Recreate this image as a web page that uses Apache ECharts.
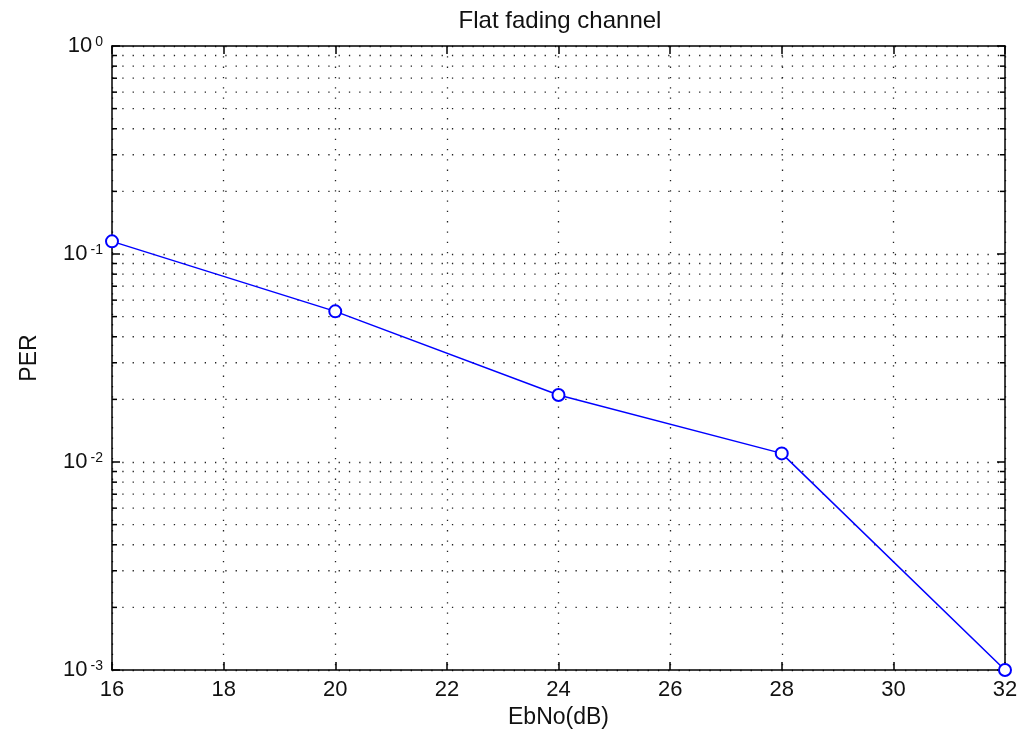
<!DOCTYPE html>
<html>
<head>
<meta charset="utf-8">
<script src="https://cdn.jsdelivr.net/npm/echarts@6/dist/echarts.min.js"></script>
<style>
html,body{margin:0;padding:0;background:#fff;}
#chart{width:1028px;height:734px;}
</style>
</head>
<body>
<div id="chart"></div>
<script>
const ebno = [16, 20, 24, 28, 32];
const per = [0.115, 0.053, 0.021, 0.011, 0.001];
const xTicks = [16, 18, 20, 22, 24, 26, 28, 30, 32];
const yMajor = [0.001, 0.01, 0.1, 1];
const yMinor = [0.002, 0.003, 0.004, 0.005, 0.006, 0.007, 0.008, 0.009,
                0.02, 0.03, 0.04, 0.05, 0.06, 0.07, 0.08, 0.09,
                0.2, 0.3, 0.4, 0.5, 0.6, 0.7, 0.8, 0.9];
const yExponents = ['-3', '-2', '-1', '0'];

const FONT = '"Liberation Sans", Arial, sans-serif';
const dot = [1.3, 9];
const xMin = xTicks[0], xMax = xTicks[xTicks.length - 1];

const chart = echarts.init(document.getElementById('chart'));
chart.setOption({
  animation: false,
  backgroundColor: '#fff',
  title: {
    text: 'Flat fading channel',
    left: 555, top: 4, textAlign: 'center',
    textStyle: {fontFamily: FONT, fontSize: 24, fontWeight: 'normal', color: '#111'}
  },
  grid: {left: 112, right: 23, top: 46, bottom: 62},
  xAxis: [{
    type: 'value', min: xMin, max: xMax, interval: 2,
    name: 'EbNo(dB)', nameLocation: 'middle', nameGap: 36,
    nameTextStyle: {fontFamily: FONT, fontSize: 23, color: '#111'},
    axisLine: {lineStyle: {color: '#000', width: 1.5}},
    axisTick: {inside: true, length: 8, lineStyle: {color: '#000', width: 1.5}},
    axisLabel: {fontFamily: FONT, fontSize: 22, color: '#111', margin: 9},
    splitLine: {show: true, lineStyle: {color: '#222', width: 1.3, type: dot}}
  }, {
    type: 'value', min: xMin, max: xMax, interval: 2, position: 'top',
    axisLine: {lineStyle: {color: '#000', width: 1.5}},
    axisTick: {inside: true, length: 8, lineStyle: {color: '#000', width: 1.5}},
    axisLabel: {show: false}, splitLine: {show: false}
  }],
  yAxis: [{
    type: 'log', logBase: 10, min: yMajor[0], max: yMajor[yMajor.length - 1],
    name: 'PER', nameLocation: 'middle', nameGap: 71, nameRotate: 90,
    nameTextStyle: {fontFamily: FONT, fontSize: 23, color: '#111'},
    axisLine: {lineStyle: {color: '#000', width: 1.5}},
    axisTick: {inside: true, length: 8, lineStyle: {color: '#000', width: 1.5}},
    axisLabel: {
      margin: 9,
      formatter: function (v) {
        let idx = 0, best = Infinity;
        yMajor.forEach((m, i) => {
          const d = Math.abs(Math.log10(m) - Math.log10(v));
          if (d < best) { best = d; idx = i; }
        });
        return '{b|10}{s|' + yExponents[idx] + '}';
      },
      rich: {
        b: {fontFamily: FONT, fontSize: 22, lineHeight: 22, color: '#111', verticalAlign: 'middle', padding: [4, 0, 4, 0]},
        s: {fontFamily: FONT, fontSize: 14, lineHeight: 14, color: '#111', verticalAlign: 'top', padding: [0, 0, 0, 3]}
      }
    },
    splitLine: {show: true, lineStyle: {color: '#222', width: 1.3, type: dot}}
  }, {
    type: 'log', logBase: 10, min: yMajor[0], max: yMajor[yMajor.length - 1], position: 'right',
    axisLine: {lineStyle: {color: '#000', width: 1.5}},
    axisTick: {inside: true, length: 8, lineStyle: {color: '#000', width: 1.5}},
    axisLabel: {show: false}, splitLine: {show: false}
  }],
  series: [{
    type: 'custom',
    silent: true,
    z: 1,
    data: yMinor.map(v => [xMin, v]),
    renderItem: function (params, api) {
      const v = api.value(1);
      const p1 = api.coord([xMin, v]);
      const p2 = api.coord([xMax, v]);
      return {
        type: 'group',
        children: [{
          type: 'line',
          shape: {x1: p1[0], y1: p1[1], x2: p2[0], y2: p2[1]},
          style: {stroke: '#222', lineWidth: 1.3, lineDash: dot}
        }, {
          type: 'line',
          shape: {x1: p1[0], y1: p1[1], x2: p1[0] + 5, y2: p1[1]},
          style: {stroke: '#000', lineWidth: 1.5}
        }, {
          type: 'line',
          shape: {x1: p2[0] - 5, y1: p2[1], x2: p2[0], y2: p2[1]},
          style: {stroke: '#000', lineWidth: 1.5}
        }]
      };
    }
  }, {
    type: 'line',
    z: 5,
    data: ebno.map((x, i) => [x, per[i]]),
    symbol: 'emptyCircle',
    symbolSize: 12,
    lineStyle: {color: '#0000ff', width: 1.5},
    itemStyle: {color: '#0000ff', borderColor: '#0000ff', borderWidth: 1.4},
    clip: false
  }]
});
</script>
</body>
</html>
